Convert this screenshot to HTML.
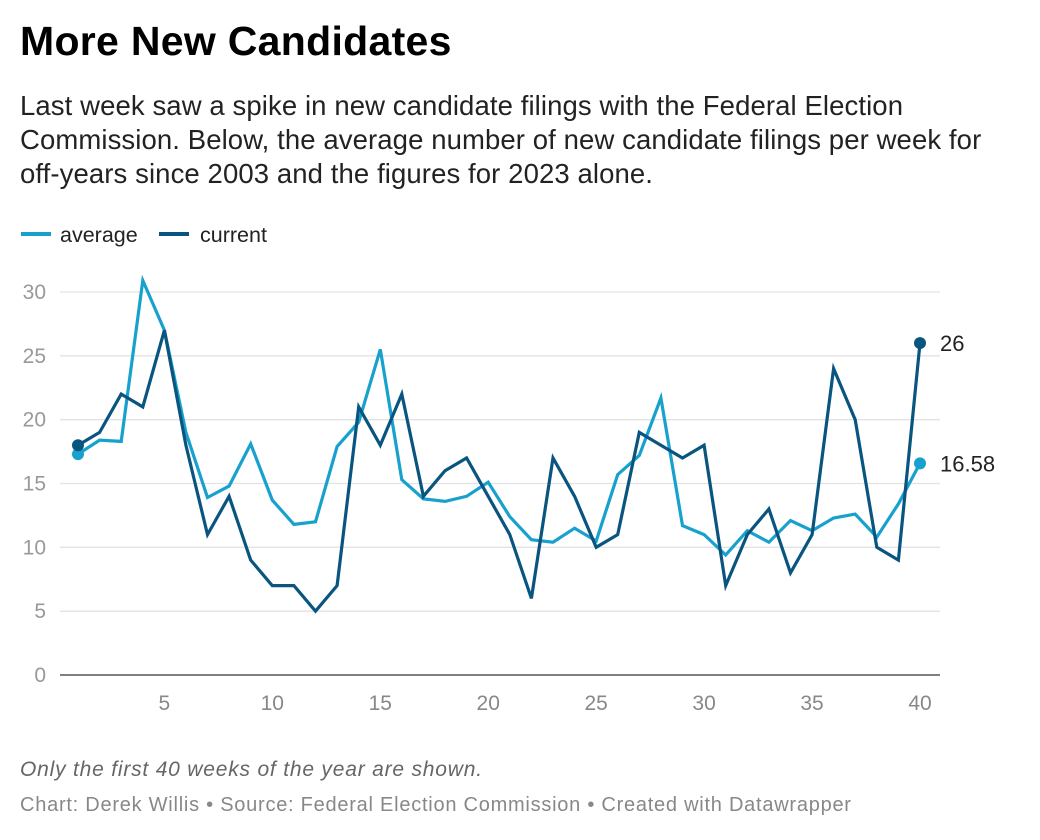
<!DOCTYPE html>
<html><head><meta charset="utf-8"><style>
body{margin:0;background:#fff;font-family:"Liberation Sans",sans-serif;}
#wrap{position:relative;width:1040px;height:840px;}
h1{position:absolute;left:20px;top:18px;margin:0;font-size:41px;font-weight:bold;color:#000;letter-spacing:0.3px}
.desc{position:absolute;left:20px;top:89px;width:1010px;font-size:27.5px;line-height:34px;color:#222;letter-spacing:0.1px}
.note{position:absolute;left:20px;top:758px;font-size:21px;font-style:italic;color:#666;letter-spacing:0.8px}
.src{position:absolute;left:20px;top:794px;font-size:20px;color:#888;letter-spacing:0.75px}
</style></head><body><div id="wrap">
<h1>More New Candidates</h1>
<div class="desc">Last week saw a spike in new candidate filings with the Federal Election<br>Commission. Below, the average number of new candidate filings per week for<br>off-years since 2003 and the figures for 2023 alone.</div>
<svg id="svg" width="1040" height="840" style="position:absolute;left:0;top:0">
<g>
<g><rect x="21" y="232" width="30" height="4" fill="#18a1cd"/><text x="60" y="242" font-size="21.5" fill="#222">average</text></g>
<g><rect x="159" y="232" width="30" height="4" fill="#09557f"/><text x="200" y="242" font-size="21.5" fill="#222">current</text></g>
</g>
</svg>
<div class="note">Only the first 40 weeks of the year are shown.</div>
<div class="src">Chart: Derek Willis • Source: Federal Election Commission • Created with Datawrapper</div>
</div>
<script>
const weeks=[];for(let i=1;i<=40;i++)weeks.push(i);
const averageValues=[17.3,18.4,18.3,30.9,27,19,13.9,14.8,18.1,13.7,11.8,12.0,17.9,19.8,25.5,15.3,13.8,13.6,14.0,15.1,12.4,10.6,10.4,11.5,10.5,15.7,17.2,21.7,11.7,11.0,9.4,11.3,10.4,12.1,11.3,12.3,12.6,10.8,13.4,16.58];
const currentValues=[18,19,22,21,27,18,11,14,9,7,7,5,7,21,18,22,14,16,17,14,11,6,17,14,10,11,19,18,17,18,7,11,13,8,11,24,20,10,9,26];
const yTicks=[0,5,10,15,20,25,30];
const xTicks=[5,10,15,20,25,30,35,40];
const NS="http://www.w3.org/2000/svg",svg=document.getElementById('svg');
const X=w=>78+(w-1)*(842/39), Y=v=>675-v*(383/30);
function mk(t,a,p){const e=document.createElementNS(NS,t);for(const k in a)e.setAttribute(k,a[k]);(p||svg).appendChild(e);return e;}
const grid=mk('g',{});


yTicks.forEach(v=>{
 if(v>0){const l=mk('line',{x1:60,x2:940,y1:Y(v),y2:Y(v),stroke:'#e3e3e3','stroke-width':1.3},grid);
 
 }
 const t=mk('text',{x:46,y:Y(v)+7,'text-anchor':'end','font-size':21,fill:'#999'});t.textContent=v;
 
 
});
const ax=mk('line',{x1:60,x2:940,y1:675,y2:675,stroke:'#333','stroke-width':1.3});


xTicks.forEach(w=>{const t=mk('text',{x:X(w),y:710,'text-anchor':'middle','font-size':21,fill:'#888'});t.textContent=w;
 
 });
function series(vals,col,name,label){
 const d=vals.map((v,i)=>(i?'L':'M')+X(weeks[i]).toFixed(1)+','+Y(v).toFixed(1)).join('');
 const p=mk('path',{d:d,fill:'none',stroke:col,'stroke-width':3.2,'stroke-linejoin':'miter'});
 
 
 [0,vals.length-1].forEach(i=>{const c=mk('circle',{cx:X(weeks[i]),cy:Y(vals[i]),r:6,fill:col});
 
 });
 const last=vals.length-1;const t=mk('text',{x:X(weeks[last])+20,y:Y(vals[last])+8,'font-size':22,fill:'#222'});t.textContent=label;
 
 
}
series(averageValues,'#18a1cd','average',String(averageValues[averageValues.length-1]));
series(currentValues,'#09557f','current',String(currentValues[currentValues.length-1]));
</script>
</body></html>
